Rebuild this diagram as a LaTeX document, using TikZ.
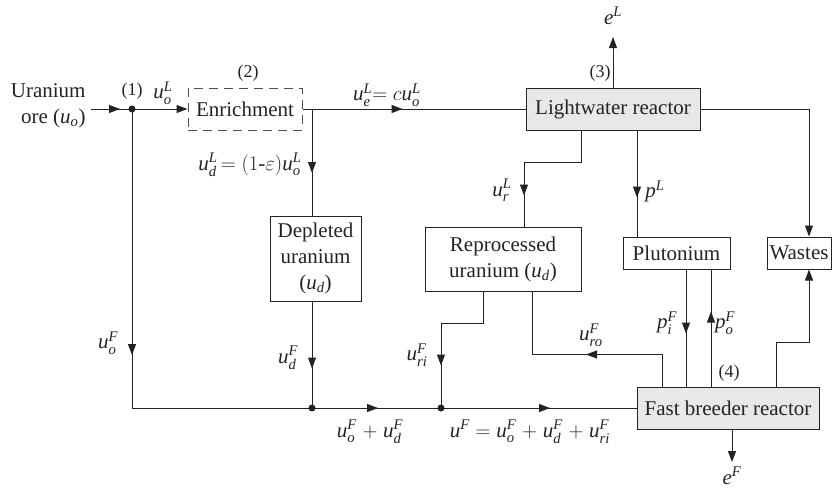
\documentclass[tikz,border=0pt]{standalone}
\usepackage{amsmath}
\usepackage{fontspec}
\setmainfont{Liberation Serif}
\usetikzlibrary{arrows.meta,decorations.markings,calc}
\newcommand\flw[3]{$\textit{#1}^{\textit{#2}}_{\textit{#3}}$}
\newcommand\fls[2]{$\textit{#1}_{\textit{#2}}$}
\definecolor{boxfill}{RGB}{232,232,232}
\definecolor{ink}{RGB}{35,35,35}
\begin{document}
\begin{tikzpicture}[x=1pt,y=-1pt,
  font=\fontsize{21}{26}\selectfont,
  line width=1pt, draw=ink,
  every node/.style={text=ink},
  box/.style={draw=ink, align=center, inner sep=0pt, line width=1pt},
  shaded/.style={box, fill=boxfill},
  tagtext/.style={font=\fontsize{18}{20}\selectfont},
  lab/.style={inner sep=0pt},
  tipstyle/.tip={Triangle[length=11pt,width=8pt]},
  arr/.style={-{tipstyle}},
  midarr/.style={postaction={decorate},
    decoration={markings, mark=at position #1 with {\arrow{tipstyle}}}}]
\useasboundingbox (0,0) rectangle (838,491);

% boxes
\node[box, draw=ink!80, dash pattern=on 9pt off 6pt, minimum width=114pt, minimum height=42pt] (enrich) at (245,109) {Enrichment};
\node[shaded, minimum width=174pt, minimum height=42pt] (lwr) at (613,109) {Lightwater reactor};
\node[box, minimum width=91pt, minimum height=85pt] (depl) at (315.5,258.5) {Depleted\\uranium\\(\fls{u}{d})};
\node[box, minimum width=156pt, minimum height=64pt] (repro) at (503,259) {Reprocessed\\uranium (\fls{u}{d})};
\node[box, minimum width=107pt, minimum height=32pt] (pluto) at (676.5,253) {Plutonium};
\node[box, minimum width=64pt, minimum height=32pt] (wastes) at (799,253) {Wastes};
\node[shaded, minimum width=182pt, minimum height=42pt] (fbr) at (728,408) {Fast breeder reactor};

% source text
\node[lab, align=right, anchor=east] (ore) at (86,106) {Uranium\\ore (\fls{u}{o})};

% junctions
\coordinate (in) at (91,109);
\coordinate (d1) at (132,109);
\coordinate (j2) at (312,109);
\coordinate (d2) at (312,408);
\coordinate (d3) at (441,408);
\coordinate (eLt) at (613,37);
\coordinate (eFt) at (732,462);
\fill[ink] (d1) circle (3.5pt);
\fill[ink] (d2) circle (3.5pt);
\fill[ink] (d3) circle (3.5pt);

% connectors
\draw[midarr=29pt] (in) -- (d1);
\draw[arr] (d1) -- (enrich.west);
\draw[midarr=100pt] (enrich.east) -- (lwr.west);
\draw[midarr=64pt] (j2) -- (j2 |- depl.north);
\draw[midarr=246pt] (d1) -- (d1 |- d2) -- (d2);
\draw[midarr=67pt] (d2 |- depl.south) -- (d2);
\draw[midarr=66pt] (d2) -- (d3);
\draw[midarr=109pt] (d3) -- (fbr.west);
\draw[midarr=116pt] ($(repro.south)+(-20,0)$) -- ++(0,32) -| (d3);
\draw[midarr=108pt] ($(fbr.north)+(-66,0)$) -- ++(0,-32) -| ($(repro.south)+(29,0)$);
\draw[arr] (lwr.north) -- (eLt);
\draw[midarr=122pt] ($(lwr.south)+(-32,0)$) -- ++(0,32) -| ($(repro.north)+(21,0)$);
\draw[midarr=67pt] ($(lwr.south)+(24,0)$) -- ($(pluto.north)+(-39.5,0)$);
\draw[arr] (lwr.east) -| ($(wastes.north)+(10,0)$);
\draw[midarr=64pt] ($(pluto.south)+(9.5,0)$) -- ($(fbr.north)+(-42,0)$);
\draw[midarr=75pt] ($(fbr.north)+(-17,0)$) -- ($(pluto.south)+(34.5,0)$);
\draw[arr] ($(fbr.north)+(48,0)$) -- ++(0,-44) -| ($(wastes.south)+(10,0)$);
\draw[arr] ($(fbr.south)+(4,0)$) -- (eFt);

% labels
\node[lab, tagtext] (t1) at (132,91) {(1)};
\node[lab, tagtext] (t2) at (248,73) {(2)};
\node[lab, tagtext] (t3) at (600,73) {(3)};
\node[lab, tagtext] (t4) at (729,373) {(4)};
\node[lab] (luoL) at (163,93) {\flw{u}{L}{o}};
\node[lab] (lueL) at (387,95) {\flw{u}{L}{e}$=c$\flw{u}{L}{o}};
\node[lab, anchor=east] (ludL) at (302,165) {\flw{u}{L}{d}$\,=(1\text{-}\varepsilon)$\flw{u}{L}{o}};
\node[lab] (luoF) at (108,343) {\flw{u}{F}{o}};
\node[lab] (ludF) at (288,358) {\flw{u}{F}{d}};
\node[lab] (lsum1) at (370,432) {\flw{u}{F}{o}$\;+\;$\flw{u}{F}{d}};
\node[lab] (luriF) at (417,355) {\flw{u}{F}{ri}};
\node[lab] (lsum2) at (530,432) {\flw{u}{F}{}$\;=\;$\flw{u}{F}{o}$\;+\;$\flw{u}{F}{d}$\;+\;$\flw{u}{F}{ri}};
\node[lab] (lurL) at (502,190) {\flw{u}{L}{r}};
\node[lab] (lpL) at (655,192) {\flw{p}{L}{}};
\node[lab] (leL) at (613,18) {\flw{e}{L}{}};
\node[lab] (luroF) at (591,335) {\flw{u}{F}{ro}};
\node[lab] (lpiF) at (667,323) {\flw{p}{F}{i}};
\node[lab] (lpoF) at (725,323) {\flw{p}{F}{o}};
\node[lab] (leF) at (732,478) {\flw{e}{F}{}};
\end{tikzpicture}
\end{document}
